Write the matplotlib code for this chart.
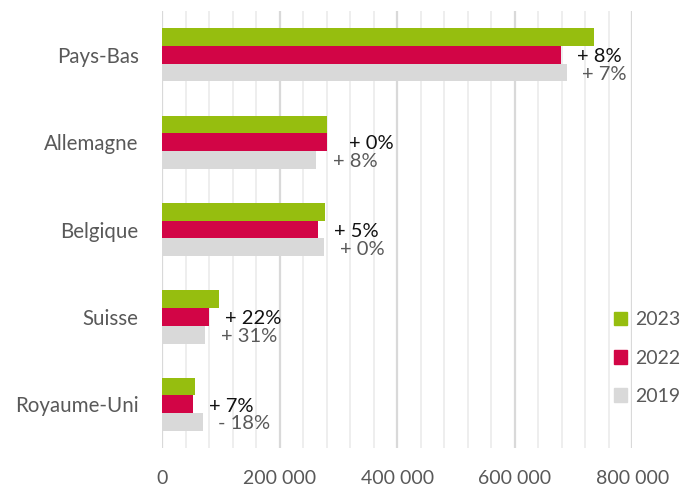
import matplotlib
matplotlib.use("Agg")
import matplotlib.pyplot as plt
import numpy as np
from matplotlib.patches import Patch
from matplotlib.ticker import MultipleLocator, FuncFormatter

plt.rcParams['font.family'] = ['Lato', 'DejaVu Sans']

categories = ["Pays-Bas", "Allemagne", "Belgique", "Suisse", "Royaume-Uni"]
v2023 = [735000, 281000, 277500, 96500, 55700]
v2022 = [678000, 280700, 264500, 79000, 52200]
v2019 = [688000, 261000, 276000, 73300, 68500]
series_names = ["2023", "2022", "2019"]
labels_vs2022 = ["+ 8%", "+ 0%", "+ 5%", "+ 22%", "+ 7%"]
labels_vs2019 = ["+ 7%", "+ 8%", "+ 0%", "+ 31%", "- 18%"]
label_x_2022 = [705000, 318000, 292000, 106700, 79500]
label_x_2019 = [714000, 290000, 302000, 100000, 95000]
xticks = [0, 200000, 400000, 600000, 800000]

c23, c22, c19 = "#96BE0F", "#D20546", "#D9D9D9"
txt = "#595959"

fig = plt.figure(figsize=(6.83, 4.86), dpi=100)
ax = fig.add_axes([0.2376, 0.0782, 0.6882, 0.8988])

n = len(categories)
y = np.arange(n)
h = 0.203
ax.barh(y - h, v2023, height=h, color=c23, zorder=3)
ax.barh(y, v2022, height=h, color=c22, zorder=3)
ax.barh(y + h, v2019, height=h, color=c19, zorder=3)

for i in range(n):
    ax.text(label_x_2022[i], y[i] + 0.02, labels_vs2022[i], color="#111111",
            fontsize=14.5, va="center", ha="left", zorder=4)
    ax.text(label_x_2019[i], y[i] + h + 0.02, labels_vs2019[i], color=txt,
            fontsize=14.5, va="center", ha="left", zorder=4)

ax.set_xlim(0, 800000)
ax.set_ylim(n - 0.5, -0.5)
ax.set_yticks(y)
ax.set_yticklabels(categories, fontsize=14.8)
ax.set_xticks(xticks)
ax.xaxis.set_major_formatter(FuncFormatter(lambda v, p: f"{int(v):,}".replace(",", " ")))
ax.xaxis.set_minor_locator(MultipleLocator(40000))
ax.grid(axis="x", which="major", color="#D9D9D9", linewidth=1.6, zorder=0)
ax.grid(axis="x", which="minor", color="#EEEEEE", linewidth=1.4, zorder=0)
for s in ax.spines.values():
    s.set_visible(False)
ax.tick_params(axis="both", which="both", length=0, colors=txt)
ax.tick_params(axis="x", labelsize=14, pad=16)
ax.tick_params(axis="y", pad=17)

handles = [Patch(color=c23), Patch(color=c22), Patch(color=c19)]
leg = fig.legend(handles, series_names, loc="center left",
                 bbox_to_anchor=(0.873, 0.263), frameon=False,
                 handlelength=0.7, handleheight=0.7, handletextpad=0.4,
                 labelspacing=1.1, fontsize=14, labelcolor=txt)

fig.savefig("out.png", dpi=100)
